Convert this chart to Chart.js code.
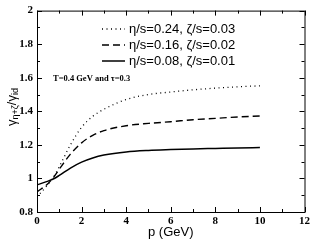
<!DOCTYPE html>
<html>
<head>
<meta charset="utf-8">
<script src="https://cdn.jsdelivr.net/npm/chart.js@4/dist/chart.umd.min.js"></script>
<style>
  html, body { margin: 0; padding: 0; background: #fff; }
</style>
</head>
<body>
<canvas id="chart" width="313" height="240"></canvas>
<script>
// momentum values (GeV)
const pValues = [0, 0.5, 0.75, 1, 1.5, 2, 2.5, 3, 4, 5, 6, 7, 8, 9, 10];

// gamma ratio for each viscosity pair
const ratioHigh = [0.89, 0.965, 1.01, 1.07, 1.2, 1.305, 1.37, 1.412, 1.47, 1.50, 1.515, 1.528, 1.538, 1.546, 1.552];
const ratioMid  = [0.92, 0.97, 1.008, 1.055, 1.145, 1.212, 1.257, 1.285, 1.314, 1.328, 1.338, 1.35, 1.358, 1.366, 1.372];
const ratioLow  = [0.962, 0.984, 0.998, 1.018, 1.062, 1.097, 1.122, 1.139, 1.158, 1.167, 1.172, 1.176, 1.179, 1.182, 1.184];

const seriesLabels = ["η/s=0.24, ζ/s=0.03", "η/s=0.16, ζ/s=0.02", "η/s=0.08, ζ/s=0.01"];
const seriesDash = [[1, 3.5], [7, 4], []];
const seriesWidth = [1.3, 1.4, 1.5];

const noteText = "T=0.4 GeV and τ=0.3";

function toPoints(ys) {
  return pValues.map((p, i) => ({ x: p, y: ys[i] }));
}

// box around plot + inward ticks on all four sides
const frameTicks = {
  id: "frameTicks",
  afterDraw(chart) {
    const ctx = chart.ctx;
    const a = chart.chartArea;
    const xs = chart.scales.x;
    const ys = chart.scales.y;
    ctx.save();
    ctx.strokeStyle = "#000";
    ctx.lineWidth = 1;
    ctx.strokeRect(a.left + 0.5, a.top + 0.5, a.right - a.left, a.bottom - a.top);
    ctx.beginPath();
    for (let v = 0; v <= 12; v++) {
      const px = Math.round(xs.getPixelForValue(v)) + 0.5;
      const len = v % 2 === 0 ? 5 : 3;
      ctx.moveTo(px, a.bottom); ctx.lineTo(px, a.bottom - len);
      ctx.moveTo(px, a.top); ctx.lineTo(px, a.top + len);
    }
    for (let k = 8; k <= 20; k++) {
      const py = Math.round(ys.getPixelForValue(k / 10)) + 0.5;
      const len = k % 2 === 0 ? 5 : 3;
      ctx.moveTo(a.left, py); ctx.lineTo(a.left + len, py);
      ctx.moveTo(a.right, py); ctx.lineTo(a.right - len, py);
    }
    ctx.stroke();
    ctx.restore();
  }
};

// legend, note and y title drawn on top
const labelsPlugin = {
  id: "labelsPlugin",
  afterDraw(chart) {
    const ctx = chart.ctx;
    ctx.save();
    ctx.fillStyle = "#000";
    ctx.strokeStyle = "#000";

    // legend
    ctx.font = "13px 'Liberation Sans', Arial, sans-serif";
    ctx.textBaseline = "middle";
    chart.data.datasets.forEach((ds, i) => {
      const y = 29 + 16 * i;
      ctx.beginPath();
      ctx.setLineDash(ds.borderDash || []);
      ctx.lineWidth = ds.borderWidth;
      ctx.moveTo(102, y);
      ctx.lineTo(125, y);
      ctx.stroke();
      ctx.setLineDash([]);
      ctx.fillText(ds.label, 129, y);
    });

    // note
    ctx.font = "bold 8.5px 'Liberation Serif', 'Times New Roman', serif";
    ctx.fillText(noteText, 53, 79);

    // y title: gamma_(eta+zeta) / gamma_id
    const big = "13px 'Liberation Sans', Arial, sans-serif";
    const small = "9px 'Liberation Sans', Arial, sans-serif";
    const parts = [["γ", big, 0], ["η+ζ", small, 4], ["/γ", big, 0], ["id", small, 4]];
    let total = 0;
    parts.forEach(pt => { ctx.font = pt[1]; total += ctx.measureText(pt[0]).width; });
    ctx.translate(12, 107);
    ctx.rotate(-Math.PI / 2);
    let x = -total / 2;
    ctx.textBaseline = "middle";
    parts.forEach(pt => {
      ctx.font = pt[1];
      ctx.fillText(pt[0], x, pt[2]);
      x += ctx.measureText(pt[0]).width;
    });
    ctx.restore();
  }
};

const tickFont = { family: "'Liberation Serif', 'Times New Roman', serif", size: 11, weight: "bold" };

new Chart(document.getElementById("chart"), {
  type: "line",
  data: {
    datasets: [ratioHigh, ratioMid, ratioLow].map((ys, i) => ({
      label: seriesLabels[i],
      data: toPoints(ys),
      borderColor: "#000",
      borderWidth: seriesWidth[i],
      borderDash: seriesDash[i],
      pointRadius: 0,
      fill: false,
      cubicInterpolationMode: "monotone"
    }))
  },
  options: {
    responsive: false,
    animation: false,
    layout: { padding: { top: 5, right: 6, left: 0, bottom: 0 } },
    plugins: { legend: { display: false }, tooltip: { enabled: false } },
    scales: {
      x: {
        type: "linear",
        min: 0,
        max: 12,
        grid: { display: false, drawTicks: false },
        border: { display: false },
        ticks: { stepSize: 2, padding: 3, color: "#000", font: tickFont, maxRotation: 0 },
        title: {
          display: true,
          text: "p (GeV)",
          color: "#000",
          font: { family: "'Liberation Sans', Arial, sans-serif", size: 13 },
          padding: { top: 0, bottom: 0 }
        },
        afterFit(scale) { scale.height = 28; }
      },
      y: {
        min: 0.8,
        max: 2,
        grid: { display: false, drawTicks: false },
        border: { display: false },
        ticks: {
          stepSize: 0.2,
          padding: 4,
          color: "#000",
          font: tickFont,
          callback: v => (Math.abs(v - Math.round(v)) < 1e-6 ? String(Math.round(v)) : v.toFixed(1))
        },
        afterFit(scale) { scale.width = 37; }
      }
    }
  },
  plugins: [frameTicks, labelsPlugin]
});
</script>
</body>
</html>
